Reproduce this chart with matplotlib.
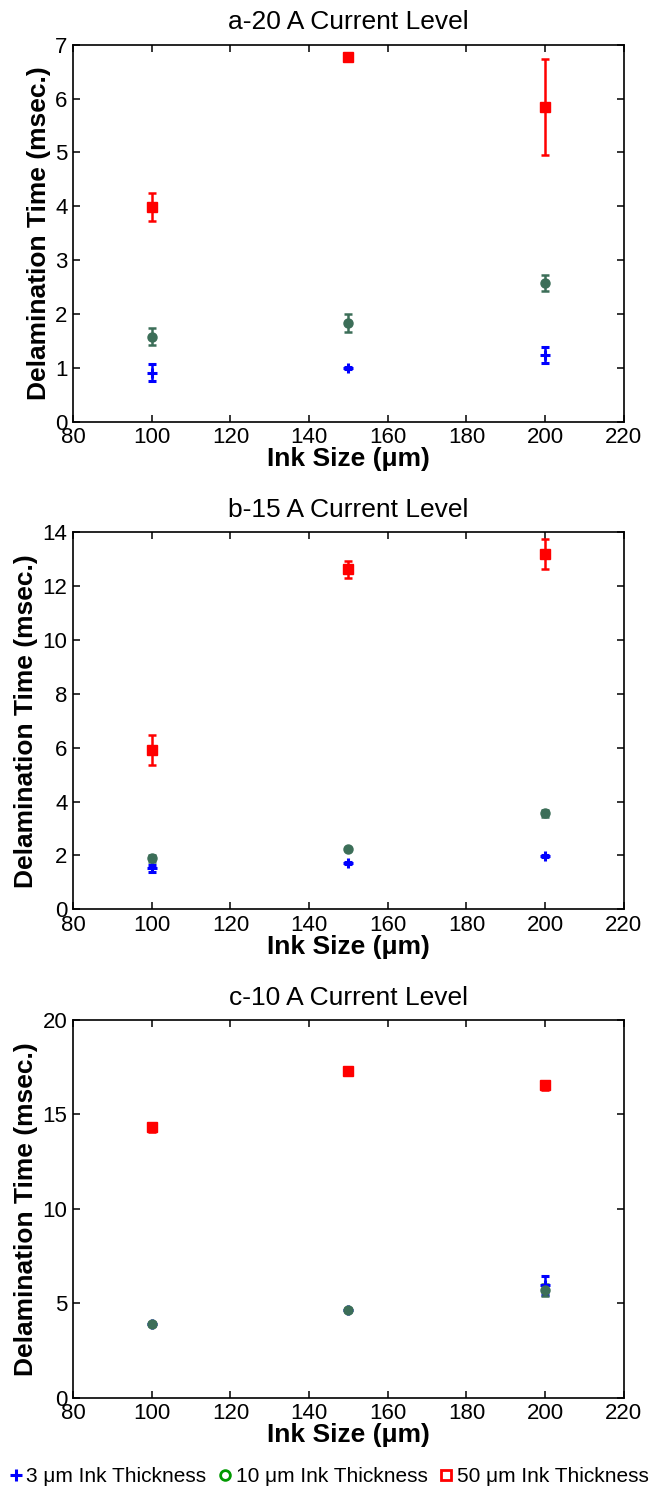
import matplotlib
matplotlib.use("Agg")
import matplotlib.pyplot as plt
from matplotlib.lines import Line2D

plt.rcParams['font.family'] = ['Liberation Sans', 'DejaVu Sans']

# ink size on the x axis, shared by all three current levels
ink_size = [100, 150, 200]

titles = ['a-20 A Current Level', 'b-15 A Current Level', 'c-10 A Current Level']
y_limits = [(0, 7), (0, 14), (0, 20)]
y_ticks = [list(range(0, 8)), list(range(0, 15, 2)), [0, 5, 10, 15, 20]]

# mean delamination time (msec.) and error per ink thickness, one row per current level
t3_mean = [[0.91, 1.0, 1.24], [1.52, 1.73, 1.98], [3.89, 4.63, 5.96]]
t3_err = [[0.155, 0.02, 0.155], [0.12, 0.03, 0.03], [0.05, 0.05, 0.5]]
t10_mean = [[1.58, 1.83, 2.57], [1.89, 2.24, 3.56], [3.89, 4.63, 5.7]]
t10_err = [[0.155, 0.165, 0.15], [0.12, 0.05, 0.12], [0.1, 0.1, 0.3]]
t50_mean = [[3.99, 6.77, 5.84], [5.91, 12.62, 13.18], [14.32, 17.30, 16.54]]
t50_err = [[0.265, 0.03, 0.89], [0.55, 0.32, 0.55], [0.25, 0.1, 0.25]]

legend_labels = ['3 μm Ink Thickness', '10 μm Ink Thickness', '50 μm Ink Thickness']

BLUE = '#0000ff'
GREEN = '#3c6e58'
RED = '#ff0000'

fig = plt.figure(figsize=(6.58, 14.91), dpi=100)

axes_rects = [
    [0.111, 0.7172, 0.837, 0.2528],
    [0.111, 0.3901, 0.837, 0.2531],
    [0.111, 0.0626, 0.837, 0.2533],
]

for i in range(3):
    ax = fig.add_axes(axes_rects[i])
    ax.errorbar(ink_size, t3_mean[i], yerr=t3_err[i], fmt='+', color=BLUE,
                ms=7, mew=2.2, elinewidth=1.8, capsize=3, capthick=1.8)
    ax.errorbar(ink_size, t10_mean[i], yerr=t10_err[i], fmt='o', color=GREEN,
                ms=6.5, elinewidth=1.8, capsize=3, capthick=1.8)
    ax.errorbar(ink_size, t50_mean[i], yerr=t50_err[i], fmt='s', color=RED,
                ms=6.5, elinewidth=1.8, capsize=3, capthick=1.8)

    ax.set_xlim(80, 220)
    ax.set_xticks(range(80, 221, 20))
    ax.set_ylim(*y_limits[i])
    ax.set_yticks(y_ticks[i])
    ax.tick_params(direction='in', top=True, right=True, length=5, width=1.1,
                   labelsize=16, pad=4)
    for sp in ax.spines.values():
        sp.set_linewidth(1.2)

    ax.set_title(titles[i], fontsize=19, pad=11)
    ax.set_xlabel('Ink Size (μm)', fontsize=19, fontweight='bold', labelpad=-1)
    ax.set_ylabel('Delamination Time (msec.)', fontsize=19, fontweight='bold', labelpad=3)

handles = [
    Line2D([], [], ls='none', marker='+', color=BLUE, ms=8, mew=2.2),
    Line2D([], [], ls='none', marker='o', color='#009900', mfc='none', ms=7, mew=2),
    Line2D([], [], ls='none', marker='s', color=RED, mfc='none', ms=7, mew=2),
]
fig.legend(handles, legend_labels, loc='center', bbox_to_anchor=(0.5, 1 - 1477 / 1491),
           ncol=3, frameon=False, fontsize=15, handlelength=0.6, handletextpad=0.2,
           columnspacing=0.6, borderaxespad=0)

fig.savefig('out.png', dpi=100)
